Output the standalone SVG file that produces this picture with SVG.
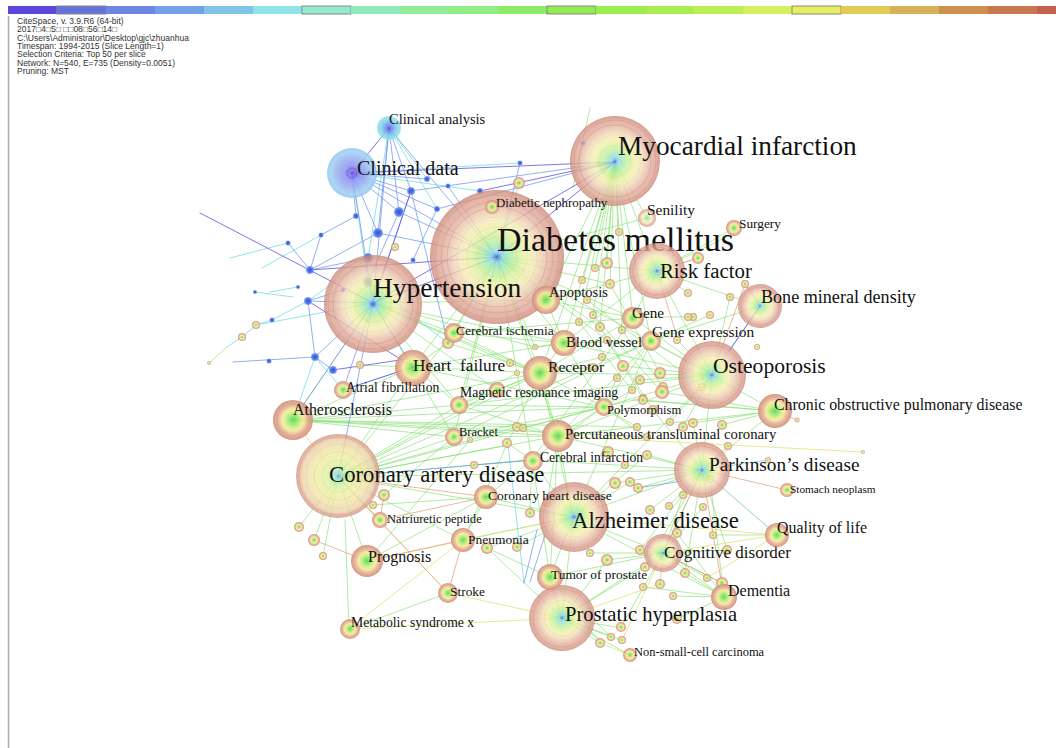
<svg xmlns="http://www.w3.org/2000/svg" width="1056" height="748" viewBox="0 0 1056 748">
<style>
.hd{font-family:"Liberation Sans",Arial,sans-serif;font-size:8.5px;fill:#333}
.lb{font-family:"Liberation Serif","Times New Roman",serif;fill:#111}
.e{fill:none;stroke-width:1;stroke-linecap:round}
.eg{stroke:#86e070;stroke-opacity:.65}
.ey{stroke:#dfe070;stroke-opacity:.75}
.eo{stroke:#e0a080;stroke-opacity:.75}
.ec{stroke:#78dce8;stroke-opacity:.8}
.eb{stroke:#6e96ee;stroke-opacity:.75}
.ep{stroke:#6650dc;stroke-opacity:.8}
.big{fill:url(#gBig);fill-opacity:.78}
.yel{fill:url(#gYel);fill-opacity:.78}
.mid{fill:url(#gMid);fill-opacity:.9}
.blu{fill:url(#gBlue)}
.ring{fill:none;stroke:#d0907c;stroke-opacity:.45;stroke-width:1}
.ring2{fill:none;stroke:#c8c070;stroke-opacity:.22;stroke-width:1}
.bar{stroke:none}
.out{stroke:#888;stroke-width:1}
</style>
<defs>
<radialGradient id="gBig">
<stop offset="0" stop-color="#5860e0"/>
<stop offset="0.04" stop-color="#70a0f0"/>
<stop offset="0.08" stop-color="#88d8e0"/>
<stop offset="0.2" stop-color="#a8eca8"/>
<stop offset="0.32" stop-color="#d0f098"/>
<stop offset="0.45" stop-color="#f0f0a8"/>
<stop offset="0.58" stop-color="#f4e4b8"/>
<stop offset="0.7" stop-color="#eac4ac"/>
<stop offset="0.8" stop-color="#e2ac9c"/>
<stop offset="0.92" stop-color="#da9c8c"/>
<stop offset="1" stop-color="#c88474"/>
</radialGradient>
<radialGradient id="gYel">
<stop offset="0" stop-color="#7090e8"/>
<stop offset="0.05" stop-color="#90d8e0"/>
<stop offset="0.15" stop-color="#b8eca8"/>
<stop offset="0.3" stop-color="#e0f0a0"/>
<stop offset="0.5" stop-color="#f0eca0"/>
<stop offset="0.7" stop-color="#f0e0a8"/>
<stop offset="0.85" stop-color="#ecd0a8"/>
<stop offset="0.93" stop-color="#e0b098"/>
<stop offset="1" stop-color="#cc8c78"/>
</radialGradient>
<radialGradient id="gMid">
<stop offset="0" stop-color="#5cd860"/>
<stop offset="0.2" stop-color="#90e870"/>
<stop offset="0.4" stop-color="#d8f080"/>
<stop offset="0.55" stop-color="#f4e8a0"/>
<stop offset="0.7" stop-color="#e8b898"/>
<stop offset="1" stop-color="#d08c78"/>
</radialGradient>
<radialGradient id="gBlue">
<stop offset="0" stop-color="#3050e0"/>
<stop offset="0.6" stop-color="#5078e8"/>
<stop offset="1" stop-color="#90b0f0"/>
</radialGradient>
<radialGradient id="gCD">
<stop offset="0" stop-color="#6040e0"/>
<stop offset="0.08" stop-color="#7868e8"/>
<stop offset="0.3" stop-color="#8c90f0"/>
<stop offset="0.6" stop-color="#98b0f0"/>
<stop offset="0.85" stop-color="#a0d0f0"/>
<stop offset="1" stop-color="#88c8f0"/>
</radialGradient>
<radialGradient id="gCA">
<stop offset="0" stop-color="#5050e0"/>
<stop offset="0.3" stop-color="#7090f0"/>
<stop offset="0.6" stop-color="#80c8f0"/>
<stop offset="1" stop-color="#90e8e0"/>
</radialGradient>
</defs>
<rect width="1056" height="748" fill="#fff"/>
<g id="timebar">
<rect class="bar" x="8" y="6" width="49" height="8" fill="#5a46d8"/>
<rect class="bar out" x="57" y="6" width="49" height="8" fill="#6472e0"/>
<rect class="bar" x="106" y="6" width="49" height="8" fill="#6c88e2"/>
<rect class="bar" x="155" y="6" width="49" height="8" fill="#72a2e4"/>
<rect class="bar" x="204" y="6" width="49" height="8" fill="#80c4e8"/>
<rect class="bar" x="253" y="6" width="49" height="8" fill="#90e4e6"/>
<rect class="bar out" x="302" y="6" width="49" height="8" fill="#94eccc"/>
<rect class="bar" x="351" y="6" width="49" height="8" fill="#92eab8"/>
<rect class="bar" x="400" y="6" width="49" height="8" fill="#92ec98"/>
<rect class="bar" x="449" y="6" width="49" height="8" fill="#90ee88"/>
<rect class="bar" x="498" y="6" width="49" height="8" fill="#8cec68"/>
<rect class="bar out" x="547" y="6" width="49" height="8" fill="#92ee50"/>
<rect class="bar" x="596" y="6" width="49" height="8" fill="#9aee50"/>
<rect class="bar" x="645" y="6" width="49" height="8" fill="#a8ee50"/>
<rect class="bar" x="694" y="6" width="49" height="8" fill="#bcee58"/>
<rect class="bar" x="743" y="6" width="49" height="8" fill="#d4f060"/>
<rect class="bar out" x="792" y="6" width="49" height="8" fill="#e8f060"/>
<rect class="bar" x="841" y="6" width="49" height="8" fill="#e2cc58"/>
<rect class="bar" x="890" y="6" width="49" height="8" fill="#d8b058"/>
<rect class="bar" x="939" y="6" width="49" height="8" fill="#d09050"/>
<rect class="bar" x="988" y="6" width="49" height="8" fill="#c87850"/>
<rect class="bar" x="1037" y="6" width="19" height="8" fill="#c46050"/>
</g>
<line x1="8.5" y1="16" x2="8.5" y2="748" stroke="#a4aab8" stroke-width="1.5"/>
<g id="header">
<text class="hd" x="17" y="24">CiteSpace, v. 3.9.R6 (64-bit)</text>
<text class="hd" x="17" y="32.3">2017□4□5□ □□08□56□14□</text>
<text class="hd" x="17" y="40.6">C:\Users\Administrator\Desktop\gjc\zhuanhua</text>
<text class="hd" x="17" y="49">Timespan: 1994-2015 (Slice Length=1)</text>
<text class="hd" x="17" y="57.3">Selection Criteria: Top 50 per slice</text>
<text class="hd" x="17" y="65.6">Network: N=540, E=735 (Density=0.0051)</text>
<text class="hd" x="17" y="74">Pruning: MST</text>
</g>
<g id="connectors">
<path class="e eg" d="M615 162L583 280M615 162L595 268M615 162L607 263M615 162L610 283M615 162L657 271M615 162L564 343M615 162L633 318M615 162L546 300M615 162L600 327M615 162L622 330M615 162L593 315M615 162L540 373M615 162L651 341M615 162L579 322M615 162L619 232M615 162L647 218"/>
<path class="e eg" d="M497 257L546 300M497 257L564 343M497 257L540 373M497 257L453 333M497 257L413 367M497 257L459 405M497 257L633 318M497 257L657 271M497 257L610 284M497 257L519 183M497 257L558 436M497 257L532 460M497 257L600 327M497 257L535 347M497 257L607 340M497 257L647 218M497 257L712 375M497 257L454 437M497 257L448 343"/>
<path class="e eg" d="M373 303L453 333M373 303L459 405M373 303L540 373M373 303L535 347M373 303L510 363M373 303L497 390M373 303L564 343M373 303L546 300M373 303L454 437"/>
<path class="e eg" d="M546 300L564 343M546 300L633 318M546 300L657 271M564 343L651 341M564 343L540 373M564 343L603 407M564 343L712 375M540 373L712 375M540 373L558 436M540 373L459 405M540 373L603 407M540 373L633 318M453 333L564 343M453 333L540 373M453 333L633 318M413 367L540 373M413 367L564 343M413 367L459 405M413 367L603 407M459 405L603 407M459 405L712 375M459 405L558 436M454 437L558 436M454 437L603 407M454 437L651 341M558 436L712 375M558 436L702 470M558 436L603 407M558 436L651 341M532 460L702 470M532 460L603 407M532 460L633 318M603 407L712 375M603 407L651 341M651 341L712 375M633 318L712 375M657 271L712 375M657 271L633 318M657 271L564 343M657 271L760 306M651 341L760 306M712 375L775 411M712 375L702 470M712 375L573 517M702 470L573 517M702 470L775 411"/>
<path class="e eg" d="M573 517L663 553M573 517L550 577M573 517L562 618M573 517L486 497M573 517L463 540M573 517L558 436M573 517L540 373M573 517L532 460M573 517L647 455M573 517L651 341M562 618L550 577M562 618L630 655M562 618L663 553M562 618L622 628M562 618L600 643M562 618L611 637M663 553L724 597M663 553L727 550M663 553L640 550M663 553L702 470M724 597L673 596M724 597L685 573M724 597L643 587M724 597L573 517M550 577L663 553M550 577L532 460M550 577L558 436M463 540L540 373M562 618L607 560M562 618L645 567"/>
<path class="e eg" d="M338 477L558 436M338 477L573 517M338 477L532 460M338 477L702 470M338 477L540 373M338 477L459 405M338 477L454 437M338 477L603 407M338 477L651 341M338 477L508 445M293 420L558 436M293 420L603 407M293 420L637 427M293 420L459 405M293 420L454 437M293 420L517 427M293 420L647 437M293 420L540 373M775 411L693 423M775 411L558 436M775 411L633 400M775 411L643 400M367 561L338 477M367 561L486 497M367 561L470 440M349 629L345 520M380 520L338 477M299 527L338 477M314 540L338 477M323 556L338 477M463 540L338 477M413 367L338 477M453 333L338 477M338 477L497 390M338 477L517 427"/>
<path class="e eg" d="M610 284L660 373M593 315L662 392M600 327L653 410M622 330L663 387M607 340L643 398M579 322L632 390M587 300L702 387M633 317L693 317M688 293L657 271M698 258L657 271M745 284L760 306M730 297L712 375M710 315L651 341M677 340L712 375M640 380L712 375M623 366L712 375M662 392L775 411M693 423L702 470M722 425L775 411M728 446L702 470M647 455L702 470M630 482L573 517M638 488L702 470M650 510L702 470M669 506L702 470M683 495L663 553M703 507L663 553M710 479L724 597M677 533L724 597M640 550L702 470M607 560L663 553M645 567L702 470M685 573L702 470M707 578L663 553M660 584L663 553M722 583L663 553M677 619L724 597M621 627L663 553M611 637L550 577M622 640L562 618M600 643L550 577M727 550L702 470M713 535L777 535M384 495L454 437M373 505L486 497M487 548L573 517M517 547L573 517M530 513L532 460M590 553L663 553M615 483L702 470M547 503L558 436M497 390L540 373M517 427L558 436M507 443L532 460M523 428L603 407M637 427L603 407M647 437L603 407M670 422L712 375M683 427L712 375M535 347L564 343M556 369L540 373M510 363L540 373M517 373L459 405M602 357L540 373M593 367L540 373M617 378L603 407M643 398L603 407M632 390L603 407M653 410L702 470"/>
<path class="e eg" d="M448 343L540 373M448 343L413 367M360 365L413 367M474 465L532 460M486 497L532 460M463 540L486 497M349 629L448 593M562 618L487 548M550 577L487 548M657 271L745 228M657 271L735 228M590 108L573 187M227 347L209 363M293 420L413 367M293 420L373 303"/>
<path class="e ey" d="M562 618L349 629M562 618L448 593M558 436L863 452M663 553L777 535M573 517L777 535M349 629L463 540M367 561L573 517M702 470L777 535M622 640L663 553M660 584L562 618M600 643L630 655M707 578L777 535M338 477L448 593M293 420L338 477"/>
<path class="e eo" d="M702 470L724 597M702 470L663 553M448 593L463 540M486 497L380 520M367 561L463 540M657 271L678 340M760 306L745 283M775 411L797 420M338 477L486 497M448 593L338 477M663 553L722 583M380 520L384 495M367 561L314 540M657 271L698 258M745 284L712 375"/>
<path class="e eo" stroke-width="2.5" d="M702 470L787 490"/>
<path class="e ec" d="M373 303L256 325M308 301L272 320M272 320L256 325M256 325L242 337M242 337L227 347M389 128L368 258M293 297L255 292M298 287L270 292M315 357L293 420M702 470L777 535M389 128L427 179M389 128L437 209M352 173L480 191M352 173L520 163M352 173L368 282M308 301L368 258M368 282L448 343M315 357L343 390M343 390L413 367M702 470L768 460M712 375L760 306M508 445L524 583M288 243L230 258M321 235L262 268"/>
<path class="e eb" d="M373 303L352 173M373 303L389 128M373 303L411 191M373 303L308 301M373 303L413 367M373 303L343 390M373 303L293 420M373 303L338 477M373 303L315 357M352 173L411 191M352 173L399 212M352 173L356 216M352 173L427 179M352 173L378 233M352 173L437 209M389 128L411 191M389 128L399 212M389 128L378 233M497 257L352 173M497 257L389 128M497 257L399 212M497 257L378 233M615 162L411 191M615 162L437 209M310 270L288 243M310 270L321 235M308 301L343 290M233 362L315 357M315 357L308 301M315 357L333 370M537 530L524 583M545 535L530 582M338 477L532 460M411 191L448 343M399 212L368 282M378 233L310 270M368 258L310 270M321 235L356 216M413 260L437 209M448 186L497 257M520 163L497 257"/>
<path class="e eb" stroke-width="2.5" d="M638 488L682 481"/>
<path class="e ep" d="M615 162L352 173M615 162L373 303M615 162L480 191M497 257L373 303M497 257L310 270M352 173L389 128M760 306L730 350M413 367L343 390M333 370L420 357M200 213L373 303M615 162L497 257M411 191L373 303M308 301L413 367"/>
</g>
<g id="minor-nodes">
<circle class="blu" cx="411" cy="191" r="4"/><circle class="blu" cx="399" cy="212" r="5"/><circle class="blu" cx="378" cy="233" r="5"/><circle class="blu" cx="356" cy="216" r="3"/><circle class="blu" cx="427" cy="179" r="3"/><circle class="blu" cx="437" cy="209" r="3"/><circle class="blu" cx="480" cy="191" r="3"/><circle class="blu" cx="310" cy="270" r="4"/><circle class="blu" cx="308" cy="301" r="4"/><circle class="blu" cx="368" cy="258" r="5"/><circle class="blu" cx="368" cy="282" r="5"/><circle class="blu" cx="321" cy="235" r="2.5"/><circle class="blu" cx="288" cy="243" r="2.5"/><circle class="blu" cx="343" cy="290" r="2.5"/><circle class="blu" cx="315" cy="357" r="4"/><circle class="blu" cx="333" cy="370" r="4"/><circle class="blu" cx="269" cy="361" r="2.5"/><circle class="blu" cx="272" cy="320" r="2.5"/><circle class="blu" cx="255" cy="292" r="2"/><circle class="blu" cx="298" cy="287" r="2"/><circle class="blu" cx="413" cy="260" r="2.5"/><circle class="blu" cx="583" cy="143" r="2.5"/><circle class="blu" cx="520" cy="163" r="2.5"/><circle class="blu" cx="448" cy="186" r="2.5"/><circle class="blu" cx="373" cy="304" r="4"/>
<circle class="mid" cx="519" cy="183" r="6"/><circle class="mid" cx="610" cy="284" r="5"/><circle class="mid" cx="587" cy="300" r="4"/><circle class="mid" cx="593" cy="315" r="4"/><circle class="mid" cx="600" cy="327" r="5"/><circle class="mid" cx="579" cy="322" r="4"/><circle class="mid" cx="607" cy="340" r="4"/><circle class="mid" cx="622" cy="330" r="4"/><circle class="mid" cx="602" cy="357" r="4"/><circle class="mid" cx="593" cy="367" r="4"/><circle class="mid" cx="623" cy="366" r="6"/><circle class="mid" cx="617" cy="378" r="4"/><circle class="mid" cx="640" cy="380" r="5"/><circle class="mid" cx="660" cy="373" r="6"/><circle class="mid" cx="663" cy="387" r="5"/><circle class="mid" cx="643" cy="398" r="4"/><circle class="mid" cx="632" cy="390" r="4"/><circle class="mid" cx="653" cy="410" r="5"/><circle class="mid" cx="535" cy="347" r="3"/><circle class="mid" cx="556" cy="369" r="3"/><circle class="mid" cx="510" cy="363" r="4"/><circle class="mid" cx="517" cy="373" r="3"/><circle class="mid" cx="497" cy="390" r="8"/><circle class="mid" cx="517" cy="427" r="5"/><circle class="mid" cx="507" cy="443" r="5"/><circle class="mid" cx="523" cy="428" r="4"/><circle class="mid" cx="637" cy="427" r="4"/><circle class="mid" cx="647" cy="437" r="4"/><circle class="mid" cx="670" cy="422" r="4"/><circle class="mid" cx="683" cy="427" r="5"/><circle class="mid" cx="693" cy="317" r="4"/><circle class="mid" cx="688" cy="293" r="4"/><circle class="mid" cx="607" cy="263" r="6"/><circle class="mid" cx="595" cy="268" r="4"/><circle class="mid" cx="582" cy="280" r="4"/><circle class="mid" cx="619" cy="232" r="4"/><circle class="mid" cx="698" cy="258" r="6"/><circle class="mid" cx="745" cy="284" r="4"/><circle class="mid" cx="730" cy="297" r="4"/><circle class="mid" cx="710" cy="315" r="4"/><circle class="mid" cx="688" cy="317" r="4"/><circle class="mid" cx="677" cy="340" r="4"/><circle class="mid" cx="757" cy="347" r="3"/><circle class="mid" cx="702" cy="387" r="4"/><circle class="mid" cx="662" cy="392" r="7"/><circle class="mid" cx="643" cy="400" r="5"/><circle class="mid" cx="693" cy="423" r="5"/><circle class="mid" cx="722" cy="425" r="5"/><circle class="mid" cx="728" cy="446" r="4"/><circle class="mid" cx="768" cy="460" r="3"/><circle class="mid" cx="647" cy="455" r="5"/><circle class="mid" cx="630" cy="482" r="5"/><circle class="mid" cx="638" cy="488" r="5"/><circle class="mid" cx="650" cy="510" r="5"/><circle class="mid" cx="669" cy="506" r="4"/><circle class="mid" cx="683" cy="495" r="4"/><circle class="mid" cx="703" cy="507" r="4"/><circle class="mid" cx="710" cy="479" r="4"/><circle class="mid" cx="677" cy="533" r="5"/><circle class="mid" cx="640" cy="550" r="5"/><circle class="mid" cx="607" cy="560" r="6"/><circle class="mid" cx="645" cy="567" r="5"/><circle class="mid" cx="685" cy="573" r="5"/><circle class="mid" cx="707" cy="578" r="4"/><circle class="mid" cx="660" cy="584" r="5"/><circle class="mid" cx="643" cy="587" r="4"/><circle class="mid" cx="673" cy="596" r="4"/><circle class="mid" cx="722" cy="583" r="6"/><circle class="mid" cx="677" cy="619" r="5"/><circle class="mid" cx="621" cy="627" r="5"/><circle class="mid" cx="611" cy="637" r="4"/><circle class="mid" cx="622" cy="640" r="4"/><circle class="mid" cx="600" cy="643" r="5"/><circle class="mid" cx="727" cy="550" r="5"/><circle class="mid" cx="713" cy="535" r="4"/><circle class="mid" cx="797" cy="420" r="2.5"/><circle class="mid" cx="863" cy="452" r="2"/><circle class="mid" cx="384" cy="495" r="6"/><circle class="mid" cx="373" cy="505" r="4"/><circle class="mid" cx="299" cy="527" r="5"/><circle class="mid" cx="314" cy="540" r="6"/><circle class="mid" cx="323" cy="556" r="4"/><circle class="mid" cx="487" cy="548" r="6"/><circle class="mid" cx="517" cy="547" r="5"/><circle class="mid" cx="530" cy="513" r="5"/><circle class="mid" cx="590" cy="553" r="4"/><circle class="mid" cx="615" cy="483" r="6"/><circle class="mid" cx="474" cy="465" r="4"/><circle class="mid" cx="547" cy="503" r="4"/><circle class="mid" cx="360" cy="365" r="4"/><circle class="mid" cx="448" cy="343" r="6"/><circle class="mid" cx="256" cy="325" r="4"/><circle class="mid" cx="242" cy="337" r="4"/><circle class="mid" cx="395" cy="247" r="4"/><circle class="mid" cx="209" cy="363" r="2"/><circle class="mid" cx="470" cy="440" r="3"/><circle class="mid" cx="608" cy="452" r="6"/><circle class="mid" cx="625" cy="465" r="4"/>
</g>
<g id="n-diabetes-mellitus"><circle class="big" cx="497" cy="257" r="67"/><circle class="ring" cx="497" cy="257" r="62"/><circle class="ring" cx="497" cy="257" r="56"/><circle class="ring" cx="497" cy="257" r="50"/><circle class="ring2" cx="497" cy="257" r="40"/><circle class="ring2" cx="497" cy="257" r="30"/><circle class="ring2" cx="497" cy="257" r="20"/><text class="lb" x="497" y="251" font-size="34">Diabetes mellitus</text></g>
<g id="n-myocardial-infarction"><circle class="big" cx="615" cy="161" r="45"/><circle class="ring" cx="615" cy="161" r="41"/><circle class="ring" cx="615" cy="161" r="36"/><circle class="ring2" cx="615" cy="161" r="26"/><circle class="ring2" cx="615" cy="161" r="16"/><text class="lb" x="618" y="155" font-size="27.3">Myocardial infarction</text></g>
<g id="n-hypertension"><circle class="big" cx="373" cy="304" r="49"/><circle class="ring" cx="373" cy="304" r="45"/><circle class="ring" cx="373" cy="304" r="40"/><circle class="ring2" cx="373" cy="304" r="28"/><circle class="ring2" cx="373" cy="304" r="18"/><text class="lb" x="373" y="297" font-size="27.5">Hypertension</text></g>
<g id="n-clinical-data"><circle cx="352" cy="173" r="25" fill="url(#gCD)" fill-opacity=".85"/><circle cx="352" cy="173" r="5" fill="none" stroke="#6040e0" stroke-opacity=".6"/><text class="lb" x="357" y="175" font-size="20">Clinical data</text></g>
<g id="n-clinical-analysis"><circle cx="389" cy="128" r="12" fill="url(#gCA)" fill-opacity=".85"/><text class="lb" x="389" y="124" font-size="14.5">Clinical analysis</text></g>
<g id="n-coronary-artery-disease"><circle class="yel" cx="338" cy="476" r="42"/><circle class="ring" cx="338" cy="476" r="39"/><circle class="ring2" cx="338" cy="476" r="32"/><circle class="ring2" cx="338" cy="476" r="24"/><circle class="ring2" cx="338" cy="476" r="16"/><text class="lb" x="329" y="482" font-size="22.7">Coronary artery disease</text></g>
<g id="n-alzheimer-disease"><circle class="big" cx="574" cy="517" r="35"/><circle class="ring" cx="574" cy="517" r="31"/><circle class="ring2" cx="574" cy="517" r="20"/><text class="lb" x="572" y="528" font-size="22.7">Alzheimer disease</text></g>
<g id="n-prostatic-hyperplasia"><circle class="big" cx="562" cy="618" r="33"/><circle class="ring" cx="562" cy="618" r="29"/><circle class="ring2" cx="562" cy="618" r="18"/><text class="lb" x="565" y="621" font-size="20.6">Prostatic hyperplasia</text></g>
<g id="n-osteoporosis"><circle class="big" cx="712" cy="375" r="34"/><circle class="ring" cx="712" cy="375" r="30"/><circle class="ring2" cx="712" cy="375" r="20"/><text class="lb" x="713" y="373" font-size="21.6">Osteoporosis</text></g>
<g id="n-parkinsons-disease"><circle class="big" cx="702" cy="470" r="28"/><circle class="ring" cx="702" cy="470" r="24"/><text class="lb" x="709" y="471" font-size="19.3">Parkinson’s disease</text></g>
<g id="n-risk-factor"><circle class="big" cx="657" cy="271" r="28"/><circle class="ring" cx="657" cy="271" r="24"/><text class="lb" x="660" y="278" font-size="20.8">Risk factor</text></g>
<g id="n-bone-mineral-density"><circle class="big" cx="760" cy="306" r="22"/><circle class="ring" cx="760" cy="306" r="19"/><text class="lb" x="761" y="303" font-size="18.1">Bone mineral density</text></g>
<g id="n-cognitive-disorder"><circle class="big" cx="663" cy="553" r="19"/><circle class="ring" cx="663" cy="553" r="16"/><text class="lb" x="664" y="558" font-size="17">Cognitive disorder</text></g>
<g id="n-heart-failure"><circle class="mid" cx="413" cy="368" r="18"/><text class="lb" x="413" y="371" font-size="17.3" xml:space="preserve">Heart  failure</text></g>
<g id="n-atherosclerosis"><circle class="mid" cx="293" cy="420" r="20"/><circle class="ring" cx="293" cy="420" r="16"/><text class="lb" x="293" y="415" font-size="15.9">Atherosclerosis</text></g>
<g id="n-receptor"><circle class="mid" cx="540" cy="373" r="17"/><text class="lb" x="548" y="372" font-size="15.6">Receptor</text></g>
<g id="n-blood-vessel"><circle class="mid" cx="564" cy="343" r="13"/><text class="lb" x="566" y="347" font-size="14.8">Blood vessel</text></g>
<g id="n-prognosis"><circle class="mid" cx="367" cy="561" r="16"/><text class="lb" x="368" y="562" font-size="16">Prognosis</text></g>
<g id="n-percutaneous"><circle class="mid" cx="558" cy="436" r="16"/><text class="lb" x="565" y="439" font-size="14.7">Percutaneous transluminal coronary</text></g>
<g id="n-copd"><circle class="mid" cx="775" cy="411" r="17"/><text class="lb" x="774" y="410" font-size="15.9">Chronic obstructive pulmonary disease</text></g>
<g id="n-quality-of-life"><circle class="mid" cx="777" cy="535" r="12"/><text class="lb" x="777" y="533" font-size="15.9">Quality of life</text></g>
<g id="n-dementia"><circle class="mid" cx="724" cy="597" r="13"/><text class="lb" x="728" y="596" font-size="16">Dementia</text></g>
<g id="n-apoptosis"><circle class="mid" cx="546" cy="300" r="14"/><text class="lb" x="549" y="297" font-size="14.5">Apoptosis</text></g>
<g id="n-tumor-of-prostate"><circle class="mid" cx="550" cy="577" r="13"/><text class="lb" x="551" y="579" font-size="13.4">Tumor of prostate</text></g>
<g id="n-coronary-heart-disease"><circle class="mid" cx="486" cy="497" r="12"/><text class="lb" x="488" y="500" font-size="13.5">Coronary heart disease</text></g>
<g id="n-cerebral-infarction"><circle class="mid" cx="533" cy="461" r="10"/><text class="lb" x="540" y="462" font-size="13.6">Cerebral infarction</text></g>
<g id="n-stroke"><circle class="mid" cx="448" cy="593" r="10"/><text class="lb" x="450" y="596" font-size="13.4">Stroke</text></g>
<g id="n-metabolic-syndrome-x"><circle class="mid" cx="350" cy="629" r="10"/><text class="lb" x="351" y="627" font-size="13.7">Metabolic syndrome x</text></g>
<g id="n-pneumonia"><circle class="mid" cx="463" cy="540" r="12"/><text class="lb" x="468" y="544" font-size="13.5">Pneumonia</text></g>
<g id="n-natriuretic-peptide"><circle class="mid" cx="380" cy="520" r="8"/><text class="lb" x="387" y="523" font-size="12.6">Natriuretic peptide</text></g>
<g id="n-bracket"><circle class="mid" cx="454" cy="437" r="9"/><text class="lb" x="459" y="436" font-size="12.5">Bracket</text></g>
<g id="n-mri"><circle class="mid" cx="459" cy="405" r="9"/><text class="lb" x="460" y="397" font-size="13.7">Magnetic resonance imaging</text></g>
<g id="n-cerebral-ischemia"><circle class="mid" cx="454" cy="333" r="10"/><text class="lb" x="456" y="335" font-size="13.5">Cerebral ischemia</text></g>
<g id="n-atrial-fibrillation"><circle class="mid" cx="343" cy="390" r="9"/><text class="lb" x="346" y="392" font-size="13.6">Atrial fibrillation</text></g>
<g id="n-gene"><circle class="mid" cx="633" cy="318" r="11"/><text class="lb" x="632" y="318" font-size="15.2">Gene</text></g>
<g id="n-gene-expression"><circle class="mid" cx="651" cy="341" r="10"/><text class="lb" x="652" y="337" font-size="15.4">Gene expression</text></g>
<g id="n-polymorphism"><circle class="mid" cx="604" cy="407" r="9"/><text class="lb" x="607" y="414" font-size="12.6">Polymorphism</text></g>
<g id="n-senility"><circle class="big" cx="647" cy="218" r="9"/><text class="lb" x="647" y="215" font-size="15.4">Senility</text></g>
<g id="n-surgery"><circle class="mid" cx="734" cy="228" r="8"/><text class="lb" x="739" y="228" font-size="13.3">Surgery</text></g>
<g id="n-diabetic-nephropathy"><circle class="mid" cx="492" cy="207" r="7"/><text class="lb" x="496" y="207" font-size="12.9">Diabetic nephropathy</text></g>
<g id="n-stomach-neoplasm"><circle class="mid" cx="787" cy="490" r="7"/><text class="lb" x="790" y="493" font-size="11.3">Stomach neoplasm</text></g>
<g id="n-nsclc"><circle class="mid" cx="630" cy="655" r="7"/><text class="lb" x="634" y="656" font-size="12.5">Non-small-cell carcinoma</text></g>
</svg>
